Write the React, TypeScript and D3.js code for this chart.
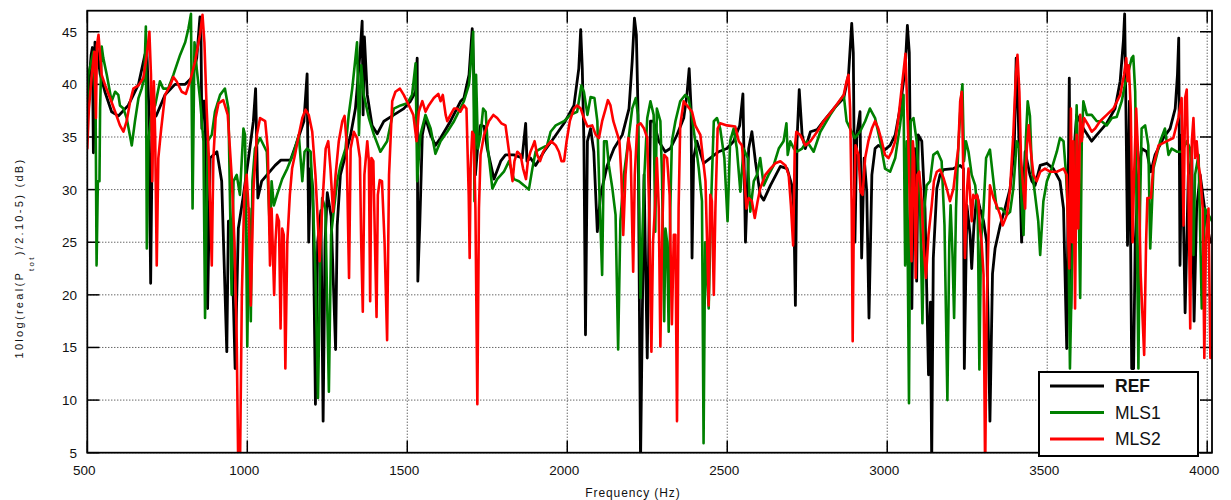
import React from 'react';
import * as d3 from 'd3';

// frequency axis ticks (Hz) and level ticks (dB)
const xTicks = [500, 1000, 1500, 2000, 2500, 3000, 3500, 4000];
const yTicks = [5, 10, 15, 20, 25, 30, 35, 40, 45];

const legendLabels = ['REF', 'MLS1', 'MLS2'];
const seriesColors = ['#000000', '#008000', '#ff0000'];

// [frequency Hz, level dB]
const refData: [number, number][] = [
  [500,37.8],[512,42.8],[516,43.5],[519,33.5],[524,44],[530,43.5],[540,41],[555,39.3],[576,37.4],[597,37],[628,38],[660,40],[680,42.8],[686,43.4],[692,38],[698,21.1],[703,35],[707,36.8],[715,37],[743,39],[774,40],[806,40],[826,40.6],[842,42.5],[852,46.4],[855,45.5],[858,35.8],[863,38.4],[868,38.4],[876,18.7],[884,33],[905,33.6],[920,30.8],[936,14.6],[941,27],[950,27],[962,13],[972,26.3],[988,29.5],[1004,33],[1019,36.5],[1026,39.6],[1033,29.2],[1045,30.8],[1087,32.3],[1105,32.8],[1135,32.8],[1156,34.6],[1177,36.5],[1187,41],[1192,25],[1198,32],[1205,30],[1213,9.6],[1220,25],[1230,28],[1237,8],[1243,25],[1250,29.7],[1262,27.5],[1276,14.8],[1281,26.6],[1291,31.4],[1307,33.3],[1323,35.2],[1338,37.7],[1352,42.8],[1359,46],[1362,37.1],[1366,44.5],[1375,39],[1390,36.1],[1406,35.3],[1427,36.5],[1458,37.1],[1489,37.7],[1510,38.4],[1526,39.3],[1531,42.5],[1533,21.3],[1539,26.6],[1547,35.2],[1557,36.8],[1573,35.2],[1588,34.2],[1604,34.9],[1635,36.5],[1667,38.4],[1677,38.7],[1693,40.9],[1703,45.3],[1708,40.9],[1713,31.4],[1720,34],[1729,36.1],[1740,36],[1750,33.9],[1771,31],[1792,32.7],[1807,33.3],[1833,33.3],[1859,33],[1870,36.3],[1874,32.7],[1885,33],[1901,32.3],[1927,33.6],[1958,34.9],[1990,36.3],[2021,38],[2036,41.5],[2042,45.2],[2047,41.5],[2052,34.6],[2057,16.2],[2063,34.6],[2073,35.8],[2083,33.6],[2094,26],[2104,29.5],[2125,32.3],[2146,33.9],[2172,35.2],[2193,37.7],[2203,42.2],[2210,46.3],[2216,44.7],[2221,37.7],[2229,4],[2240,31.4],[2250,14],[2260,36.5],[2270,36.5],[2286,34.6],[2306,33.6],[2322,33.9],[2343,35.2],[2364,36.8],[2374,39],[2381,41.5],[2387,37.7],[2390,23.5],[2395,33],[2405,34.6],[2426,32.5],[2447,33],[2473,33.6],[2499,33.9],[2520,34.6],[2539,36.1],[2549,39.1],[2557,25],[2567,33.9],[2577,35.5],[2588,32.7],[2603,29.5],[2614,29],[2635,30.4],[2666,32.2],[2687,32],[2702,30.4],[2708,28.2],[2713,19],[2718,34.6],[2725,39.5],[2734,35.2],[2744,33.9],[2760,35.5],[2781,35.7],[2801,36.5],[2833,37.7],[2864,38.7],[2879,40.9],[2889,45.8],[2894,43],[2899,25],[2905,35.2],[2915,37.4],[2920,23.5],[2928,33],[2936,29.8],[2943,17.8],[2952,31.4],[2962,33.9],[2972,34.2],[2993,33.8],[3009,34.2],[3025,35.2],[3040,37.7],[3056,41.5],[3063,45.6],[3069,43],[3077,18.7],[3082,32.7],[3087,33.9],[3092,21.3],[3097,35.2],[3108,34.6],[3118,28.2],[3129,12.4],[3135,19.3],[3139,4],[3144,23.5],[3155,30.1],[3165,31.4],[3176,31.9],[3207,32],[3228,32.3],[3238,32],[3241,13],[3249,28.5],[3259,25.7],[3264,22.5],[3271,26.6],[3280,29.5],[3290,28.2],[3301,27],[3311,25],[3321,8],[3329,22],[3337,24.4],[3353,26.6],[3368,28.2],[3384,30.1],[3397,33.9],[3403,42.5],[3410,36.5],[3420,25],[3431,33.6],[3446,31.4],[3452,30.8],[3462,30.4],[3478,32.3],[3499,32.5],[3519,32],[3540,30.8],[3551,28.2],[3561,14.9],[3566,31.4],[3569,40.6],[3574,18.7],[3582,33],[3592,37.1],[3613,35.8],[3639,34.6],[3655,35.2],[3686,36.3],[3712,37.7],[3728,40.3],[3738,44.1],[3742,46.7],[3746,37.7],[3751,24.7],[3757,38.4],[3764,13],[3770,13],[3775,25],[3785,31.4],[3795,33.9],[3811,33.6],[3824,31.7],[3837,33.3],[3863,34.9],[3884,35.8],[3900,37.7],[3907,40.9],[3911,44.4],[3915,22.8],[3921,35.2],[3931,18.3],[3941,31.4],[3952,33],[3959,17.5],[3967,28.2],[3978,31.4],[3999,26.6],[4010,25]
];

const mls1Data: [number, number][] = [
  [500,38],[503,40.9],[519,43.1],[526,37.7],[529,22.8],[533,30.8],[538,30.8],[540,37.7],[545,43.6],[550,42.5],[561,40.9],[576,38.4],[587,39.3],[597,39],[602,38],[613,37.7],[623,36.8],[639,34.2],[649,36.5],[660,38.7],[670,39.6],[678,40.6],[683,45.5],[686,24.4],[691,34.6],[701,37.4],[712,38],[727,40.3],[737,39.6],[753,39.6],[769,40.9],[790,42.8],[806,44],[816,45.3],[824,46.7],[829,28.2],[835,44],[842,41.5],[852,38.7],[863,34.6],[868,17.8],[876,34.6],[889,35.2],[899,37.4],[915,39],[930,39.6],[941,37.7],[951,20],[957,30.8],[967,31.4],[977,29.5],[988,35.8],[993,35.2],[1000,15.1],[1006,28.2],[1011,17.5],[1016,30.8],[1024,33.9],[1040,34.9],[1061,33.6],[1071,25.7],[1076,30.8],[1083,28.5],[1093,29.5],[1109,31],[1125,32],[1146,33.6],[1161,35.2],[1172,30.8],[1179,33.6],[1187,33.9],[1198,33.6],[1206,28.2],[1213,22],[1221,10.2],[1229,25],[1234,29.2],[1244,28.2],[1255,10.8],[1262,25.7],[1271,28.2],[1281,30.8],[1291,32.3],[1307,33.9],[1317,37.1],[1328,39.6],[1338,42.5],[1343,44],[1349,35.2],[1356,41.8],[1364,39],[1380,36.8],[1396,35.2],[1416,33.6],[1437,34.6],[1458,37.7],[1479,38],[1500,38.2],[1515,39],[1526,42],[1531,30.8],[1541,35.2],[1557,37.1],[1573,35.8],[1588,33.4],[1604,34.6],[1625,35.5],[1646,36.5],[1677,38.4],[1693,40],[1703,43.7],[1706,45],[1710,28.9],[1715,40.9],[1721,33.9],[1729,35.2],[1737,37.7],[1745,37.4],[1752,33.9],[1766,30.1],[1781,31],[1802,31.7],[1818,32.7],[1833,31],[1849,30.8],[1865,30.4],[1880,30],[1891,32],[1901,33.6],[1917,33.9],[1937,34.2],[1948,35.5],[1964,36.1],[1990,36.5],[2010,37.1],[2031,37.4],[2044,39.9],[2052,39.3],[2063,37.1],[2073,38.8],[2085,38.7],[2094,36.5],[2102,28.2],[2109,21.9],[2115,34.6],[2123,34.6],[2130,32.3],[2141,30.1],[2151,27.6],[2159,14.8],[2166,27],[2177,31.4],[2193,35.2],[2203,37.7],[2214,38.7],[2221,37.1],[2229,19.7],[2240,30.8],[2250,36.8],[2260,38.4],[2270,37.1],[2275,26],[2280,37.7],[2291,36.5],[2296,31.4],[2303,17.5],[2307,26.3],[2312,25],[2317,16.5],[2322,28.2],[2327,34.6],[2338,36.5],[2353,38.4],[2369,39],[2379,38.7],[2390,36.8],[2400,34.6],[2411,32],[2421,28.9],[2426,5.9],[2431,25],[2442,18.7],[2449,28.2],[2458,36.5],[2468,36.8],[2478,35.8],[2491,33],[2501,27],[2509,34.6],[2520,35.8],[2530,33.9],[2541,29.8],[2551,33.9],[2564,33],[2572,27.9],[2583,30.8],[2593,31.4],[2603,33],[2614,30.4],[2629,31.4],[2645,32.3],[2661,33.9],[2676,34.6],[2685,36.3],[2689,33.3],[2697,34.6],[2708,33.9],[2718,33.6],[2734,33.9],[2749,34.6],[2770,33.6],[2791,35.5],[2822,37.1],[2864,39],[2873,36.5],[2884,35.8],[2899,34.9],[2915,35.5],[2931,36.5],[2946,37.7],[2962,36.8],[2978,34.6],[2993,32],[3009,31.7],[3025,33],[3040,36.1],[3051,39],[3056,22.8],[3061,34.6],[3068,9.7],[3073,36.5],[3082,36.8],[3092,34.6],[3103,28.2],[3110,17.3],[3116,28.2],[3123,30.4],[3134,30.8],[3144,33.3],[3157,33.6],[3170,32.7],[3179,26.6],[3188,10],[3194,25],[3198,28.5],[3204,23.8],[3209,17.8],[3215,28.2],[3222,33.9],[3230,38.4],[3235,40],[3240,32.7],[3246,34.6],[3254,33.6],[3264,31.4],[3275,30.4],[3283,27.6],[3288,12.9],[3293,25],[3301,28.2],[3309,33],[3321,33.8],[3332,30.8],[3342,28.2],[3358,28.2],[3374,27.6],[3384,27.9],[3394,30.1],[3405,34.6],[3413,33.9],[3420,28.9],[3426,25.7],[3433,34.6],[3439,38.4],[3446,37],[3452,32],[3462,29.5],[3472,27],[3478,23.8],[3488,28.9],[3499,30.8],[3514,32],[3530,33.6],[3540,34.9],[3551,34.6],[3559,31.4],[3566,26.6],[3571,13],[3577,22],[3584,28.2],[3592,38],[3597,31.4],[3603,19.7],[3608,34.6],[3613,38.4],[3624,37.1],[3639,37.1],[3655,36.5],[3670,36.5],[3686,36.1],[3702,36.8],[3717,36.9],[3733,38.4],[3743,40],[3754,41.2],[3764,42.5],[3769,42.7],[3775,39.3],[3780,26.3],[3785,13],[3790,28.2],[3795,35.8],[3806,36.1],[3816,34.2],[3822,24.4],[3832,32],[3853,34.6],[3868,35.8],[3879,33.3],[3889,33.9],[3905,33.6],[3921,33.6],[3936,34.6],[3947,33.9],[3957,23.8],[3962,31.4],[3973,33.3],[3983,18.7],[3993,28.2],[4004,27.6],[4015,27]
];

const mls2Data: [number, number][] = [
  [500,33.9],[505,37.7],[514,40.9],[522,43.1],[527,36.8],[530,43.7],[535,44.7],[540,42.8],[545,40.9],[556,39.9],[571,38.7],[587,37.4],[602,36.1],[613,35.5],[623,36.5],[634,38.4],[644,39.6],[660,39.9],[675,40.6],[686,42.8],[694,45],[699,40.9],[703,30.8],[708,40.3],[712,35.2],[717,22.8],[722,33],[731,35.8],[743,39],[759,39.9],[769,40.7],[779,40.3],[795,39.3],[808,39.1],[821,40.3],[837,42.2],[852,44.7],[860,46.6],[866,44],[873,37.7],[880,33],[889,22.8],[894,33],[901,36.8],[910,38.2],[925,38.5],[939,37.1],[951,31.4],[960,25],[967,15.6],[972,3],[977,3],[983,20],[991,29.8],[998,31.4],[1005,27.6],[1011,19],[1019,29.8],[1030,35.2],[1040,36.8],[1056,36.5],[1064,33.9],[1071,22.8],[1076,28.2],[1084,20],[1088,25],[1093,27.6],[1099,27],[1104,16.8],[1109,26.3],[1114,25.7],[1119,13],[1125,25],[1133,29.5],[1140,32],[1151,33.6],[1161,35.2],[1172,36.8],[1182,37.6],[1192,37.1],[1203,35.5],[1213,31.4],[1221,26.6],[1226,23.2],[1234,28.2],[1245,33.9],[1253,34.6],[1260,32],[1268,27.9],[1276,31.4],[1286,34.6],[1297,36.5],[1304,37],[1310,34.6],[1314,28.2],[1318,21.6],[1323,33.9],[1333,35.5],[1343,34.9],[1352,33],[1356,25],[1361,18.4],[1366,31.4],[1375,34.6],[1380,32.7],[1384,19.4],[1388,33],[1394,32.7],[1399,25],[1404,17.9],[1408,29.5],[1414,30.9],[1421,30.8],[1429,25],[1437,15.7],[1443,31.4],[1453,38.4],[1463,39.3],[1477,39.6],[1489,39],[1505,38],[1519,37.1],[1529,34.6],[1536,37.4],[1547,38.4],[1557,37.4],[1567,38],[1583,38.7],[1597,39.1],[1604,38.4],[1611,39],[1620,37.1],[1625,36.5],[1635,37.1],[1646,37.7],[1656,37.7],[1666,37.4],[1677,38],[1685,37.7],[1692,29.5],[1695,23.5],[1698,32],[1703,35.5],[1708,35.2],[1713,28.2],[1719,9.6],[1724,28.2],[1729,33.3],[1740,35.2],[1755,36.5],[1769,37.1],[1781,36.8],[1794,36.3],[1807,36.1],[1818,33.6],[1825,31.7],[1829,30.8],[1835,32.7],[1844,33.6],[1854,33.3],[1862,32],[1871,31],[1877,32.7],[1885,33.6],[1893,34.2],[1898,34.6],[1906,33.3],[1915,32.7],[1925,33.6],[1938,34.2],[1950,34.6],[1964,34.2],[1974,33.6],[1982,32.7],[1990,32.7],[1998,34.6],[2008,36.5],[2021,37.7],[2031,38],[2042,37.7],[2052,36.8],[2063,36],[2078,36.1],[2089,35.2],[2099,34.9],[2109,36.5],[2120,37.7],[2127,38.5],[2135,38],[2144,36.5],[2154,35.5],[2163,34.6],[2169,31.4],[2175,25.7],[2182,31.4],[2191,34.9],[2198,33.6],[2206,22.2],[2211,31.4],[2219,36.1],[2229,36.3],[2240,35.8],[2250,34.9],[2256,28.2],[2263,14.6],[2268,25],[2274,28.2],[2280,33],[2286,28.2],[2291,15.1],[2296,25],[2303,33.3],[2312,33],[2320,29.5],[2327,17.2],[2333,25.7],[2338,25.7],[2343,8],[2348,28.2],[2353,36.1],[2364,38.4],[2374,38],[2390,37.4],[2400,36.1],[2416,35.2],[2424,33],[2432,30.8],[2437,25],[2442,19],[2447,29.5],[2452,28.9],[2458,20],[2463,28.2],[2470,35.8],[2478,36.3],[2499,36.1],[2525,36],[2536,34.6],[2546,34.2],[2553,31.4],[2560,28.2],[2567,29.2],[2577,28.9],[2586,27.3],[2595,28.9],[2603,30.1],[2619,31.4],[2635,32],[2650,32.5],[2666,32.7],[2682,32.3],[2692,31.4],[2699,28.5],[2706,24.7],[2711,33.9],[2716,35.5],[2728,35.2],[2744,34.2],[2760,34.6],[2781,35.5],[2801,36.5],[2833,37.7],[2864,39],[2873,40.3],[2879,40.9],[2884,37.7],[2889,28.2],[2892,15.6],[2896,28.2],[2901,34.2],[2910,33.3],[2917,29.8],[2923,29.5],[2931,33],[2941,34.6],[2952,35.8],[2962,36.5],[2972,35.8],[2983,34.6],[2993,33.3],[3004,33],[3014,33.6],[3025,34.6],[3035,36.8],[3045,39.6],[3053,41.8],[3057,42.9],[3061,39.3],[3066,34.6],[3071,28.2],[3076,23.2],[3080,34.6],[3084,33],[3089,21.6],[3094,31.4],[3100,31.7],[3108,28.9],[3113,25],[3121,21.6],[3129,25.7],[3139,28.5],[3146,30.8],[3155,31.7],[3165,31.9],[3176,31.1],[3186,30.1],[3196,28.9],[3207,30.1],[3217,32.7],[3222,33.9],[3228,38.4],[3233,39.3],[3238,31.4],[3243,23.5],[3249,29.8],[3254,32],[3259,29.5],[3264,27],[3269,29.5],[3275,29.2],[3280,29.5],[3285,28.9],[3290,26.3],[3295,25],[3301,21.9],[3306,3],[3311,19],[3316,25],[3321,30.4],[3332,29.2],[3342,28.5],[3353,27.6],[3361,26.6],[3374,27.6],[3384,30.1],[3394,35.2],[3402,40.9],[3407,42.8],[3413,39.3],[3418,33],[3426,29.8],[3431,28.2],[3436,33.9],[3442,36.1],[3449,33.6],[3457,31.4],[3467,30.8],[3478,31.7],[3493,32],[3509,31.7],[3530,31.7],[3551,32],[3561,31.4],[3566,25],[3569,22.5],[3574,37.7],[3578,25],[3582,34.6],[3587,18.7],[3592,35.2],[3597,26.3],[3603,37.1],[3608,34.6],[3615,36.8],[3629,36.1],[3639,35.5],[3650,35.8],[3665,36.5],[3686,37.1],[3707,37.7],[3728,39],[3740,40.9],[3747,42.5],[3751,40.3],[3755,41.8],[3761,37.7],[3767,25],[3771,30.8],[3778,37.7],[3785,32.7],[3792,22],[3803,14.3],[3809,25],[3813,29.2],[3824,29.2],[3832,32.3],[3848,34.2],[3874,34.6],[3894,34.9],[3910,36.8],[3920,38.7],[3926,26.6],[3931,38.7],[3936,39.5],[3941,31.4],[3947,16.8],[3952,34.6],[3957,36.8],[3962,33],[3967,34.6],[3973,32.3],[3978,31.4],[3986,28.2],[3991,14],[3996,25],[4004,28.2],[4010,14]
];

const width = 1231;
const height = 500;
const plot = { l: 87.3, r: 1212, t: 10.7, b: 452.7 };

const x = d3.scaleLinear().domain([500, 4015]).range([plot.l, plot.r]);
const y = d3.scaleLinear().domain([5, 47]).range([plot.b, plot.t]);

const line = d3
  .line<[number, number]>()
  .x(d => x(d[0]))
  .y(d => y(d[1]));

const font = '"Liberation Sans", Arial, sans-serif';

const App = () => {
  const series = [refData, mls1Data, mls2Data];
  const tickLen = 12;

  return (
    <svg
      width={width}
      height={height}
      style={{ position: 'absolute', left: 0, top: 0, background: '#fff' }}
      fontFamily={font}
    >
      <defs>
        <clipPath id="plotclip">
          <rect x={plot.l} y={plot.t} width={plot.r - plot.l} height={plot.b - plot.t} />
        </clipPath>
      </defs>

      {/* dotted grid */}
      <g stroke="#000" strokeWidth={1} strokeDasharray="1,2" opacity={0.85}>
        {xTicks.map(t => (
          <line key={'gx' + t} x1={x(t)} x2={x(t)} y1={plot.t} y2={plot.b} />
        ))}
        {yTicks.map(t => (
          <line key={'gy' + t} x1={plot.l} x2={plot.r} y1={y(t)} y2={y(t)} />
        ))}
      </g>

      {/* inward ticks */}
      <g stroke="#000" strokeWidth={1.5}>
        {yTicks.map(t => (
          <g key={'ty' + t}>
            <line x1={plot.l} x2={plot.l + tickLen} y1={y(t)} y2={y(t)} />
            <line x1={plot.r} x2={plot.r - tickLen} y1={y(t)} y2={y(t)} />
          </g>
        ))}
        {xTicks.map(t => (
          <g key={'tx' + t}>
            <line x1={x(t)} x2={x(t)} y1={plot.b} y2={plot.b - tickLen} />
            <line x1={x(t)} x2={x(t)} y1={plot.t} y2={plot.t + tickLen} />
          </g>
        ))}
      </g>

      {/* series */}
      <g clipPath="url(#plotclip)" fill="none" strokeLinejoin="round" strokeLinecap="round">
        {series.map((s, i) => (
          <path key={i} d={line(s) || ''} stroke={seriesColors[i]} strokeWidth={i === 0 ? 2.8 : 2.6} />
        ))}
      </g>

      {/* frame */}
      <rect
        x={plot.l}
        y={plot.t}
        width={plot.r - plot.l}
        height={plot.b - plot.t}
        fill="none"
        stroke="#000"
        strokeWidth={1.8}
      />

      {/* tick labels */}
      <g fontSize={13.5} fill="#111">
        {xTicks.map(t => (
          <text key={'lx' + t} x={x(t) - 3} y={475} textAnchor="middle">
            {t}
          </text>
        ))}
        {yTicks.map(t => (
          <text key={'ly' + t} x={77} y={y(t) + 5} textAnchor="end">
            {t}
          </text>
        ))}
      </g>

      {/* axis titles */}
      <text x={633} y={497} textAnchor="middle" fontSize={12} letterSpacing={0.9} fill="#111">
        Frequency (Hz)
      </text>
      <text
        transform="translate(22.5, 258) rotate(-90)"
        textAnchor="middle"
        fontSize={11}
        letterSpacing={2.3}
        fill="#111"
      >
        10log(real(P
        <tspan fontSize={8} dy={11}>
          tot
        </tspan>
        <tspan dy={-11}>)/2.10-5) (dB)</tspan>
      </text>

      {/* legend */}
      <g>
        <rect x={1039} y={372} width={159} height={84} fill="#fff" stroke="#000" strokeWidth={2} />
        {legendLabels.map((lab, i) => (
          <g key={lab}>
            <line
              x1={1050}
              x2={1104}
              y1={386 + i * 26.5}
              y2={386 + i * 26.5}
              stroke={seriesColors[i]}
              strokeWidth={3}
            />
            <text
              x={1115}
              y={392 + i * 26.5}
              fontSize={17.5}
              fontWeight={i === 0 ? 'bold' : 'normal'}
              fill="#111"
            >
              {lab}
            </text>
          </g>
        ))}
      </g>
    </svg>
  );
};

export default App;
